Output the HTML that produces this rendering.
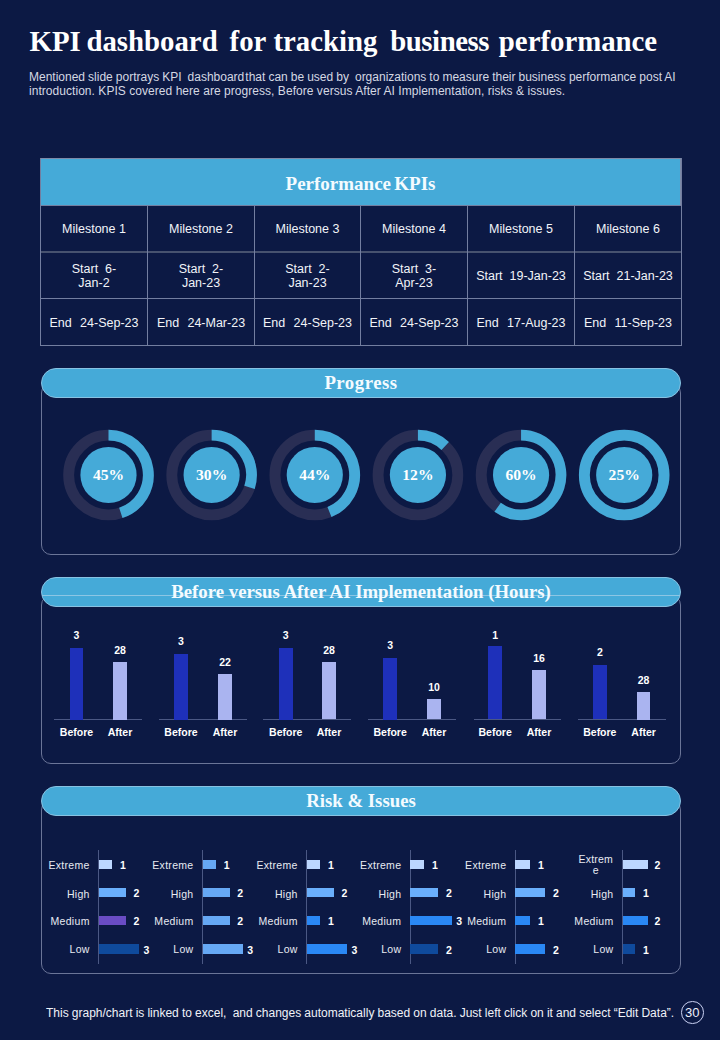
<!DOCTYPE html>
<html><head><meta charset="utf-8">
<style>
*{margin:0;padding:0;box-sizing:border-box}
html,body{width:720px;height:1040px;overflow:hidden;background:#0c1944}
body{position:relative;font-family:"Liberation Sans",Arial,sans-serif;color:#fff}
.abs{position:absolute}
.serif{font-family:"Liberation Serif","Times New Roman",serif;font-weight:bold}
#title{left:29.5px;top:23.5px;font-size:28.8px;line-height:34px;white-space:pre;color:#fff}
#sub{left:29px;top:71.3px;font-size:12px;line-height:13.5px;color:#d5d8e3;width:680px;word-spacing:-0.3px}
.hdr{position:absolute;left:40px;top:158px;width:641px;height:47px;background:#45aad8;color:#f4fbff;font-size:19px;text-align:center;line-height:50px;word-spacing:-1.5px;border:1px solid #7d8aa8;border-bottom:none}
.cell{position:absolute;display:flex;align-items:center;justify-content:center;text-align:center;font-size:12.5px;line-height:14px;color:#f2f4f8;white-space:pre}
.hl{position:absolute;height:1px;background:#737ea0}
.vl{position:absolute;width:1px;background:#737ea0}
.panel{position:absolute;left:41px;width:640px;border:1px solid #6b7598;border-radius:10px}
.pill{position:absolute;left:41px;width:640px;height:30px;border-radius:15px;background:#45aad8;border:1px solid #88c2e2;color:#f4fbff;font-size:18.8px;text-align:center;line-height:27.6px}
.pct{position:absolute;width:60px;text-align:center;font-size:15.6px;line-height:16px;color:#fff}
.bl{position:absolute;font-size:10.5px;font-weight:bold;color:#fff;line-height:12px;white-space:pre}
.rl{position:absolute;font-size:10.5px;color:#e8ebf2;line-height:12px;white-space:pre;text-align:right;letter-spacing:0.3px}
.rn{position:absolute;font-size:10.5px;font-weight:bold;color:#fff;line-height:12px}
</style></head>
<body>

<div id="title" class="abs serif">KPI <span style="margin-left:-1.5px">dashboard</span>  <span style="margin-left:-2.5px">for</span> <span style="margin-left:0.4px">tracking</span> <span style="margin-left:5.6px;letter-spacing:-0.45px">business</span> <span style="margin-left:2.6px">performance</span></div>
<div id="sub" class="abs">Mentioned slide portrays KPI&nbsp; dashboard<span style="letter-spacing:-2px"> </span>that can be used by&nbsp; organizations to measure their business performance post AI<br><span style="letter-spacing:0.045px;word-spacing:0">introduction. KPIS covered here are progress, Before versus After AI Implementation, risks &amp; issues.</span></div>
<div class="hdr serif">Performance KPIs</div>
<div class="cell" style="padding-top:0px;left:40px;top:205px;width:108px;height:48px">Milestone 1</div>
<div class="cell" style="padding-top:0px;left:147px;top:205px;width:108px;height:48px">Milestone 2</div>
<div class="cell" style="padding-top:0px;left:254px;top:205px;width:107px;height:48px">Milestone 3</div>
<div class="cell" style="padding-top:0px;left:360px;top:205px;width:108px;height:48px">Milestone 4</div>
<div class="cell" style="padding-top:0px;left:467px;top:205px;width:108px;height:48px">Milestone 5</div>
<div class="cell" style="padding-top:0px;left:574px;top:205px;width:108px;height:48px">Milestone 6</div>
<div class="cell" style="padding-top:0px;left:40px;top:252px;width:108px;height:47px">Start  6-
Jan-2</div>
<div class="cell" style="padding-top:0px;left:147px;top:252px;width:108px;height:47px">Start  2-
Jan-23</div>
<div class="cell" style="padding-top:0px;left:254px;top:252px;width:107px;height:47px">Start  2-
Jan-23</div>
<div class="cell" style="padding-top:0px;left:360px;top:252px;width:108px;height:47px">Start  3-
Apr-23</div>
<div class="cell" style="padding-top:0px;left:467px;top:252px;width:108px;height:47px">Start  19-Jan-23</div>
<div class="cell" style="padding-top:0px;left:574px;top:252px;width:108px;height:47px">Start  21-Jan-23</div>
<div class="cell" style="padding-top:1px;left:40px;top:298px;width:108px;height:48px">End<span style="display:inline-block;width:8.3px"></span>24-Sep-23</div>
<div class="cell" style="padding-top:1px;left:147px;top:298px;width:108px;height:48px">End<span style="display:inline-block;width:8.3px"></span>24-Mar-23</div>
<div class="cell" style="padding-top:1px;left:254px;top:298px;width:107px;height:48px">End<span style="display:inline-block;width:8.3px"></span>24-Sep-23</div>
<div class="cell" style="padding-top:1px;left:360px;top:298px;width:108px;height:48px">End<span style="display:inline-block;width:8.3px"></span>24-Sep-23</div>
<div class="cell" style="padding-top:1px;left:467px;top:298px;width:108px;height:48px">End<span style="display:inline-block;width:8.3px"></span>17-Aug-23</div>
<div class="cell" style="padding-top:1px;left:574px;top:298px;width:108px;height:48px">End<span style="display:inline-block;width:8.3px"></span>11-Sep-23</div>
<div class="hl" style="left:40px;top:205px;width:642px"></div>
<div class="hl" style="left:40px;top:251px;width:642px;height:2px;background:#47526f"></div>
<div class="hl" style="left:40px;top:298px;width:642px"></div>
<div class="hl" style="left:40px;top:345px;width:642px"></div>
<div class="vl" style="left:40px;top:158px;height:188px"></div>
<div class="vl" style="left:147px;top:205px;height:141px"></div>
<div class="vl" style="left:254px;top:205px;height:141px"></div>
<div class="vl" style="left:360px;top:205px;height:141px"></div>
<div class="vl" style="left:467px;top:205px;height:141px"></div>
<div class="vl" style="left:574px;top:205px;height:141px"></div>
<div class="vl" style="left:681px;top:158px;height:188px"></div>
<div class="panel" style="top:383px;height:172px"></div>
<div class="pill serif" style="top:368px;letter-spacing:0.5px">Progress</div>
<svg class="abs" style="left:0;top:0" width="720" height="1040" viewBox="0 0 720 1040">
<circle cx="108.5" cy="475" r="39.85" fill="none" stroke="#292e54" stroke-width="10.9"/>
<path d="M108.50 435.15 A39.85 39.85 0 0 1 120.81 512.90" fill="none" stroke="#45aad8" stroke-width="10.9"/>
<circle cx="108.5" cy="475" r="28.1" fill="#45aad8"/>
<circle cx="211.64" cy="475" r="39.85" fill="none" stroke="#292e54" stroke-width="10.9"/>
<path d="M211.64 435.15 A39.85 39.85 0 0 1 249.54 487.31" fill="none" stroke="#45aad8" stroke-width="10.9"/>
<circle cx="211.64" cy="475" r="28.1" fill="#45aad8"/>
<circle cx="314.78" cy="475" r="39.85" fill="none" stroke="#292e54" stroke-width="10.9"/>
<path d="M314.78 435.15 A39.85 39.85 0 0 1 329.45 512.05" fill="none" stroke="#45aad8" stroke-width="10.9"/>
<circle cx="314.78" cy="475" r="28.1" fill="#45aad8"/>
<circle cx="417.92" cy="475" r="39.85" fill="none" stroke="#292e54" stroke-width="10.9"/>
<path d="M417.92 435.15 A39.85 39.85 0 0 1 445.20 445.95" fill="none" stroke="#45aad8" stroke-width="10.9"/>
<circle cx="417.92" cy="475" r="28.1" fill="#45aad8"/>
<circle cx="521.06" cy="475" r="39.85" fill="none" stroke="#292e54" stroke-width="10.9"/>
<path d="M521.06 435.15 A39.85 39.85 0 1 1 497.64 507.24" fill="none" stroke="#45aad8" stroke-width="10.9"/>
<circle cx="521.06" cy="475" r="28.1" fill="#45aad8"/>
<circle cx="624.2" cy="475" r="39.85" fill="none" stroke="#292e54" stroke-width="10.9"/>
<circle cx="624.2" cy="475" r="39.85" fill="none" stroke="#45aad8" stroke-width="10.9"/>
<circle cx="624.2" cy="475" r="28.1" fill="#45aad8"/>
</svg>
<div class="pct serif" style="left:78.5px;top:467px">45%</div>
<div class="pct serif" style="left:181.64px;top:467px">30%</div>
<div class="pct serif" style="left:284.78px;top:467px">44%</div>
<div class="pct serif" style="left:387.92px;top:467px">12%</div>
<div class="pct serif" style="left:491.05999999999995px;top:467px">60%</div>
<div class="pct serif" style="left:594.2px;top:467px">25%</div>
<div class="panel" style="top:595px;height:169px"></div>
<div class="pill serif" style="top:577px"></div>
<div class="abs" style="left:42px;top:594.5px;width:638px;height:1px;background:#8cc6e4"></div>
<div class="pill serif" style="top:577px;background:transparent;border-color:transparent">Before versus After AI Implementation (Hours)</div>
<div class="abs" style="left:54px;top:719.0px;width:88px;height:1px;background:#4b5884"></div>
<div class="abs" style="left:70px;top:648px;width:13px;height:71.5px;background:#1e30ba"></div>
<div class="bl" style="left:56.5px;width:40px;text-align:center;top:629.20px">3</div>
<div class="bl" style="left:51.5px;width:50px;text-align:center;top:726px">Before</div>
<div class="abs" style="left:113px;top:662px;width:14px;height:57.5px;background:#aab4f0"></div>
<div class="bl" style="left:100.0px;width:40px;text-align:center;top:644.20px">28</div>
<div class="bl" style="left:95.0px;width:50px;text-align:center;top:726px">After</div>
<div class="abs" style="left:158.5px;top:719.0px;width:88.5px;height:1px;background:#4b5884"></div>
<div class="abs" style="left:174px;top:653.5px;width:14px;height:66.0px;background:#1e30ba"></div>
<div class="bl" style="left:161.0px;width:40px;text-align:center;top:634.70px">3</div>
<div class="bl" style="left:156.0px;width:50px;text-align:center;top:726px">Before</div>
<div class="abs" style="left:218px;top:674px;width:14px;height:45.5px;background:#aab4f0"></div>
<div class="bl" style="left:205.0px;width:40px;text-align:center;top:656.20px">22</div>
<div class="bl" style="left:200.0px;width:50px;text-align:center;top:726px">After</div>
<div class="abs" style="left:262.5px;top:719.0px;width:88.5px;height:1px;background:#4b5884"></div>
<div class="abs" style="left:279px;top:648px;width:13.5px;height:71.5px;background:#1e30ba"></div>
<div class="bl" style="left:265.75px;width:40px;text-align:center;top:629.20px">3</div>
<div class="bl" style="left:260.75px;width:50px;text-align:center;top:726px">Before</div>
<div class="abs" style="left:322px;top:661.7px;width:14px;height:57.799999999999955px;background:#aab4f0"></div>
<div class="bl" style="left:309.0px;width:40px;text-align:center;top:643.90px">28</div>
<div class="bl" style="left:304.0px;width:50px;text-align:center;top:726px">After</div>
<div class="abs" style="left:368px;top:719.0px;width:87.5px;height:1px;background:#4b5884"></div>
<div class="abs" style="left:383.3px;top:658px;width:13.699999999999989px;height:61.5px;background:#1e30ba"></div>
<div class="bl" style="left:370.15px;width:40px;text-align:center;top:639.20px">3</div>
<div class="bl" style="left:365.15px;width:50px;text-align:center;top:726px">Before</div>
<div class="abs" style="left:427px;top:698.7px;width:14px;height:20.799999999999955px;background:#aab4f0"></div>
<div class="bl" style="left:414.0px;width:40px;text-align:center;top:680.90px">10</div>
<div class="bl" style="left:409.0px;width:50px;text-align:center;top:726px">After</div>
<div class="abs" style="left:473.5px;top:719.0px;width:87.5px;height:1px;background:#4b5884"></div>
<div class="abs" style="left:488.3px;top:645.7px;width:13.699999999999989px;height:73.79999999999995px;background:#1e30ba"></div>
<div class="bl" style="left:475.15px;width:40px;text-align:center;top:628.90px">1</div>
<div class="bl" style="left:470.15px;width:50px;text-align:center;top:726px">Before</div>
<div class="abs" style="left:532px;top:669.6px;width:14px;height:49.89999999999998px;background:#aab4f0"></div>
<div class="bl" style="left:519.0px;width:40px;text-align:center;top:651.80px">16</div>
<div class="bl" style="left:514.0px;width:50px;text-align:center;top:726px">After</div>
<div class="abs" style="left:577.5px;top:719.0px;width:88.5px;height:1px;background:#4b5884"></div>
<div class="abs" style="left:593px;top:664.7px;width:13.700000000000045px;height:54.799999999999955px;background:#1e30ba"></div>
<div class="bl" style="left:579.85px;width:40px;text-align:center;top:645.90px">2</div>
<div class="bl" style="left:574.85px;width:50px;text-align:center;top:726px">Before</div>
<div class="abs" style="left:637.2px;top:692px;width:12.799999999999955px;height:27.5px;background:#aab4f0"></div>
<div class="bl" style="left:623.6px;width:40px;text-align:center;top:674.20px">28</div>
<div class="bl" style="left:618.6px;width:50px;text-align:center;top:726px">After</div>
<div class="panel" style="top:800px;height:174px"></div>
<div class="pill serif" style="top:786px">Risk &amp; Issues</div>
<div class="abs" style="left:98.2px;top:850px;width:1px;height:114px;background:#4b5884"></div>
<div class="abs" style="left:98.7px;top:859.8px;width:13.5px;height:9.3px;background:#bcd6ff"></div>
<div class="rn" style="left:120.00px;top:859.1px">1</div>
<div class="rl" style="left:17.700000000000003px;width:72px;top:858.5px">Extreme</div>
<div class="abs" style="left:98.7px;top:888px;width:27.0px;height:9.3px;background:#6aaffc"></div>
<div class="rn" style="left:133.50px;top:887.1px">2</div>
<div class="rl" style="left:17.700000000000003px;width:72px;top:887.65px">High</div>
<div class="abs" style="left:98.7px;top:916px;width:27.0px;height:9.3px;background:#6a4cc4"></div>
<div class="rn" style="left:133.50px;top:915.3px">2</div>
<div class="rl" style="left:17.700000000000003px;width:72px;top:915.4px">Medium</div>
<div class="abs" style="left:98.7px;top:944.3px;width:40.5px;height:9.3px;background:#0f4a9c"></div>
<div class="rn" style="left:143.50px;top:944.0px">3</div>
<div class="rl" style="left:17.700000000000003px;width:72px;top:943.2px">Low</div>
<div class="abs" style="left:202.0px;top:850px;width:1px;height:114px;background:#4b5884"></div>
<div class="abs" style="left:202.5px;top:859.8px;width:13.5px;height:9.3px;background:#66a8f4"></div>
<div class="rn" style="left:223.80px;top:859.1px">1</div>
<div class="rl" style="left:121.5px;width:72px;top:858.5px">Extreme</div>
<div class="abs" style="left:202.5px;top:888px;width:27.0px;height:9.3px;background:#66a8f4"></div>
<div class="rn" style="left:237.30px;top:887.1px">2</div>
<div class="rl" style="left:121.5px;width:72px;top:887.65px">High</div>
<div class="abs" style="left:202.5px;top:916px;width:27.0px;height:9.3px;background:#66a8f4"></div>
<div class="rn" style="left:237.30px;top:915.3px">2</div>
<div class="rl" style="left:121.5px;width:72px;top:915.4px">Medium</div>
<div class="abs" style="left:202.5px;top:944.3px;width:40.5px;height:9.3px;background:#66a8f4"></div>
<div class="rn" style="left:247.30px;top:944.0px">3</div>
<div class="rl" style="left:121.5px;width:72px;top:943.2px">Low</div>
<div class="abs" style="left:306.2px;top:850px;width:1px;height:114px;background:#4b5884"></div>
<div class="abs" style="left:306.7px;top:859.8px;width:13.5px;height:9.3px;background:#bcd6ff"></div>
<div class="rn" style="left:328.00px;top:859.1px">1</div>
<div class="rl" style="left:225.7px;width:72px;top:858.5px">Extreme</div>
<div class="abs" style="left:306.7px;top:888px;width:27.0px;height:9.3px;background:#6aaffc"></div>
<div class="rn" style="left:341.50px;top:887.1px">2</div>
<div class="rl" style="left:225.7px;width:72px;top:887.65px">High</div>
<div class="abs" style="left:306.7px;top:916px;width:13.5px;height:9.3px;background:#2a88f5"></div>
<div class="rn" style="left:328.00px;top:915.3px">1</div>
<div class="rl" style="left:225.7px;width:72px;top:915.4px">Medium</div>
<div class="abs" style="left:306.7px;top:944.3px;width:40.5px;height:9.3px;background:#2a88f5"></div>
<div class="rn" style="left:351.50px;top:944.0px">3</div>
<div class="rl" style="left:225.7px;width:72px;top:943.2px">Low</div>
<div class="abs" style="left:409.8px;top:850px;width:1px;height:114px;background:#4b5884"></div>
<div class="abs" style="left:410.3px;top:859.8px;width:13.9px;height:9.3px;background:#bcd6ff"></div>
<div class="rn" style="left:432.00px;top:859.1px">1</div>
<div class="rl" style="left:329.3px;width:72px;top:858.5px">Extreme</div>
<div class="abs" style="left:410.3px;top:888px;width:27.8px;height:9.3px;background:#6aaffc"></div>
<div class="rn" style="left:445.90px;top:887.1px">2</div>
<div class="rl" style="left:329.3px;width:72px;top:887.65px">High</div>
<div class="abs" style="left:410.3px;top:916px;width:41.7px;height:9.3px;background:#2a88f5"></div>
<div class="rn" style="left:456.30px;top:915.3px">3</div>
<div class="rl" style="left:329.3px;width:72px;top:915.4px">Medium</div>
<div class="abs" style="left:410.3px;top:944.3px;width:27.8px;height:9.3px;background:#0f4a9c"></div>
<div class="rn" style="left:445.90px;top:944.0px">2</div>
<div class="rl" style="left:329.3px;width:72px;top:943.2px">Low</div>
<div class="abs" style="left:514.8px;top:850px;width:1px;height:114px;background:#4b5884"></div>
<div class="abs" style="left:515.3px;top:859.8px;width:14.9px;height:9.3px;background:#bcd6ff"></div>
<div class="rn" style="left:538.00px;top:859.1px">1</div>
<div class="rl" style="left:434.29999999999995px;width:72px;top:858.5px">Extreme</div>
<div class="abs" style="left:515.3px;top:888px;width:29.8px;height:9.3px;background:#6aaffc"></div>
<div class="rn" style="left:552.90px;top:887.1px">2</div>
<div class="rl" style="left:434.29999999999995px;width:72px;top:887.65px">High</div>
<div class="abs" style="left:515.3px;top:916px;width:14.9px;height:9.3px;background:#2a88f5"></div>
<div class="rn" style="left:538.00px;top:915.3px">1</div>
<div class="rl" style="left:434.29999999999995px;width:72px;top:915.4px">Medium</div>
<div class="abs" style="left:515.3px;top:944.3px;width:29.8px;height:9.3px;background:#2a88f5"></div>
<div class="rn" style="left:552.90px;top:944.0px">2</div>
<div class="rl" style="left:434.29999999999995px;width:72px;top:943.2px">Low</div>
<div class="abs" style="left:622.0px;top:850px;width:1px;height:114px;background:#4b5884"></div>
<div class="abs" style="left:622.5px;top:859.8px;width:25.6px;height:9.3px;background:#bcd6ff"></div>
<div class="rn" style="left:654.50px;top:859.1px">2</div>
<div class="rl" style="left:564.80px;width:62px;text-align:center;top:853.5px;line-height:11.7px;letter-spacing:0.2px">Extrem<br>e</div>
<div class="abs" style="left:622.5px;top:888px;width:12.8px;height:9.3px;background:#6aaffc"></div>
<div class="rn" style="left:643.10px;top:887.1px">1</div>
<div class="rl" style="left:541.5px;width:72px;top:887.65px">High</div>
<div class="abs" style="left:622.5px;top:916px;width:25.6px;height:9.3px;background:#2a88f5"></div>
<div class="rn" style="left:654.50px;top:915.3px">2</div>
<div class="rl" style="left:541.5px;width:72px;top:915.4px">Medium</div>
<div class="abs" style="left:622.5px;top:944.3px;width:12.8px;height:9.3px;background:#0f4a9c"></div>
<div class="rn" style="left:643.10px;top:944.0px">1</div>
<div class="rl" style="left:541.5px;width:72px;top:943.2px">Low</div>
<div class="abs" id="foot" style="left:46px;top:1006.1px;font-size:12px;line-height:14px;color:#f0f2f8;white-space:pre;word-spacing:-0.2px">This graph/chart is linked to excel,  and changes automatically based on data. Just left click on it and select “Edit Data”.</div>
<div class="abs" style="left:681px;top:1001px;width:22.5px;height:22.5px;border:1.2px solid #c9d0f2;border-radius:50%;font-size:13px;color:#eef0fb;text-align:center;line-height:21px">30</div>
</body></html>
